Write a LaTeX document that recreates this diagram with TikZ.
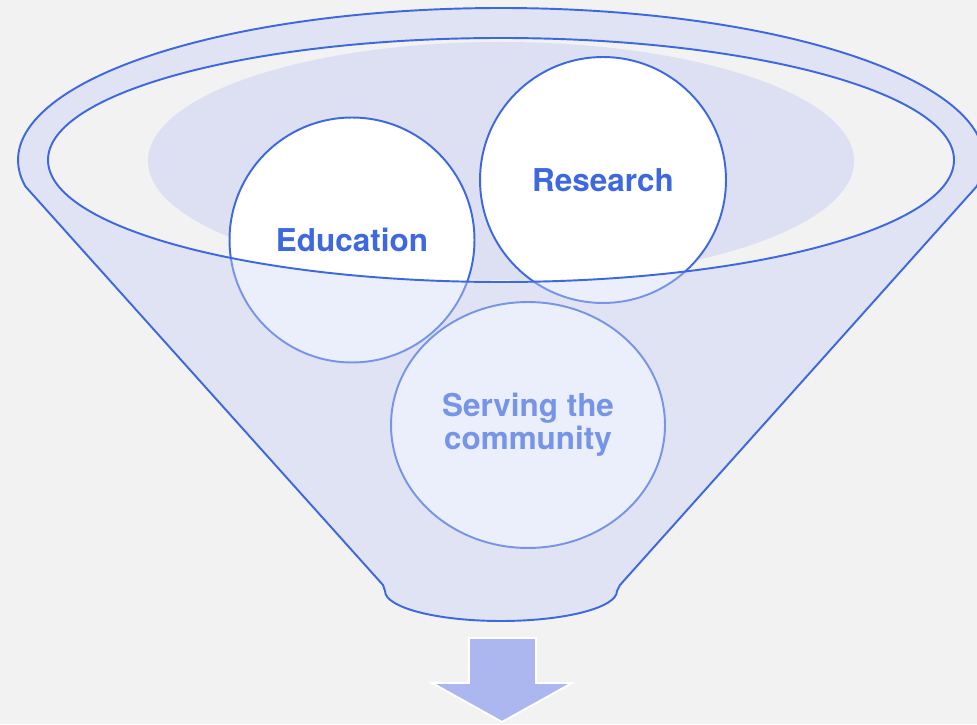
\documentclass[tikz,border=0pt]{standalone}
\usepackage{fontspec}
\setmainfont{TeX Gyre Heros}
\usetikzlibrary{shapes.geometric}

\definecolor{funnelblue}{RGB}{61,104,224}
\definecolor{funnelback}{RGB}{242,242,242}
\definecolor{funnelbody}{RGB}{238,237,241}
\definecolor{funnelfront}{RGB}{205,214,246}
\definecolor{funnelshade}{RGB}{221,224,242}
\definecolor{arrowfill}{RGB}{172,183,240}

\newcommand{\FunnelOutline}{(976.7,537.6) arc[start angle=-10, end angle=190, x radius=483, y radius=152] -- (383,139) -- (385,133) arc[start angle=180, end angle=360, x radius=116, y radius=30] -- (620,139) -- cycle}

\tikzset{
  bubble/.style={circle, draw=funnelblue, fill=white, line width=1.1pt,
    text=funnelblue, font=\fontsize{17.9}{18.7}\selectfont\bfseries,
    align=center, inner sep=0pt},
}

\begin{document}
\begin{tikzpicture}[x=0.02cm,y=0.02cm]
    %Background
    \fill[funnelback] (0,0) rectangle (977,724);
    \useasboundingbox (0,0) rectangle (977,724);
    \clip (0,0) rectangle (977,724);

    %Funnel
    \fill[funnelbody] \FunnelOutline;
    \fill[funnelback] (501,564) ellipse[x radius=453, y radius=122];
    \fill[funnelshade] (501,563) ellipse[x radius=353, y radius=119];

    \node[bubble, minimum size=4.9cm] (Education) at (352,484) {Education};
    \node[bubble, minimum size=4.92cm] (Research) at (603,544) {Research};
    \node[bubble, ellipse, minimum width=5.48cm, minimum height=4.92cm] (Serving) at (528,299) {Serving the\\community};

    %Front of the funnel
    \fill[funnelfront, fill opacity=0.4, even odd rule] \FunnelOutline
        (501,564) ellipse[x radius=453, y radius=122];
    \draw[funnelblue, line width=1.1pt] \FunnelOutline;
    \draw[funnelblue, line width=1.1pt] (501,564) ellipse[x radius=453, y radius=122];

    %Arrow
    \draw[white, line width=1.1pt, fill=arrowfill] (469,86) -- (536,86) -- (536,41)
        -- (572,41) -- (502,2) -- (432,41) -- (469,41) -- cycle;
\end{tikzpicture}
\end{document}
